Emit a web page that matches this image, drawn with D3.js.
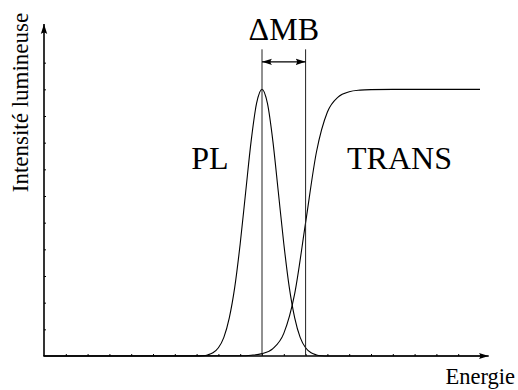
<!DOCTYPE html>
<html lang="fr">
<head>
<meta charset="utf-8">
<title>PL / TRANS</title>
<script src="https://d3js.org/d3.v7.min.js"></script>
<style>
  body { margin: 0; background: #fff; }
</style>
</head>
<body>
<script>
// energy positions (axis units) and intensities
const plEnergy = [0, 7, 7.25, 7.5, 7.75, 8, 8.25, 8.5, 8.75, 9, 9.25, 9.5, 9.75, 10,
                  10.25, 10.5, 10.75, 11, 11.25, 11.5, 11.75, 12, 12.25, 12.5, 12.75, 13, 20];
const plIntensity = [0, 0, 0.01, 0.04, 0.12, 0.31, 0.70, 1.43, 2.58, 4.21, 6.14, 8.05, 9.47, 10,
                     9.47, 8.05, 6.14, 4.21, 2.58, 1.43, 0.70, 0.31, 0.12, 0.04, 0.01, 0, 0];

const transEnergy = [0, 9, 9.5, 10, 10.5, 11, 11.5, 12, 12.5, 13, 13.5, 14, 14.5, 15, 16, 20];
const transIntensity = [0, 0.01, 0.03, 0.09, 0.28, 0.85, 2.34, 5.0, 7.66, 9.15, 9.72, 9.91, 9.97, 9.99, 10, 10];

const peakEnergy = 10;   // PL maximum
const edgeEnergy = 12;   // absorption edge (mid height of TRANS)

const curveLabels = [{text: "PL", x: 6.75}, {text: "TRANS", x: 13.9}];
const yTicks = d3.range(1, 12);
const xTicks = d3.range(1, 21);

const serif = "Liberation Serif";

const width = 518, height = 390;
const svg = d3.select("body").append("svg")
  .attr("width", width)
  .attr("height", height);

const x = d3.scaleLinear().domain([0, 20]).range([44, 480]);
const y = d3.scaleLinear().domain([0, 12]).range([356, 36]);

// arrow heads
const defs = svg.append("defs");
defs.append("marker")
  .attr("id", "head")
  .attr("viewBox", "0 0 10 8")
  .attr("refX", 10).attr("refY", 4)
  .attr("markerWidth", 10).attr("markerHeight", 8)
  .attr("markerUnits", "userSpaceOnUse")
  .attr("orient", "auto-start-reverse")
  .append("path")
  .attr("d", "M0,0.8 Q3,4 0,7.2 L10,4 Z")
  .attr("fill", "#000");

// ticks (no labels), pointing inside
svg.append("g")
  .attr("transform", `translate(${x(0)},0)`)
  .call(d3.axisLeft(y).tickValues(yTicks).tickSize(-2).tickFormat(""))
  .call(g => g.select(".domain").remove())
  .selectAll("line").attr("stroke", "#000").attr("stroke-width", 1);

svg.append("g")
  .attr("transform", `translate(0,${y(0)})`)
  .call(d3.axisBottom(x).tickValues(xTicks).tickSize(-2).tickFormat(""))
  .call(g => g.select(".domain").remove())
  .selectAll("line").attr("stroke", "#000").attr("stroke-width", 1);

// axes with arrows
svg.append("line")
  .attr("x1", x(0)).attr("y1", y(0))
  .attr("x2", x(0)).attr("y2", y(12.45))
  .attr("stroke", "#000").attr("stroke-width", 1.6)
  .attr("marker-end", "url(#head)");
svg.append("line")
  .attr("x1", x(0) - 0.8).attr("y1", y(0))
  .attr("x2", x(20.4)).attr("y2", y(0))
  .attr("stroke", "#000").attr("stroke-width", 1.6)
  .attr("marker-end", "url(#head)");

// curves
const line = d3.line()
  .x(d => x(d[0]))
  .y(d => y(d[1]))
  .curve(d3.curveMonotoneX);

svg.append("path")
  .datum(d3.zip(plEnergy, plIntensity))
  .attr("d", line)
  .attr("fill", "none")
  .attr("stroke", "#000")
  .attr("stroke-width", 1.1);

svg.append("path")
  .datum(d3.zip(transEnergy, transIntensity))
  .attr("d", line)
  .attr("fill", "none")
  .attr("stroke", "#000")
  .attr("stroke-width", 1.1);

// vertical markers for the gap
svg.selectAll(".vline")
  .data([peakEnergy, edgeEnergy])
  .join("line")
  .attr("class", "vline")
  .attr("x1", d => x(d)).attr("x2", d => x(d))
  .attr("y1", y(11.5)).attr("y2", y(0))
  .attr("stroke", "#222").attr("stroke-width", 1);

svg.append("line")
  .attr("x1", x(peakEnergy)).attr("x2", x(edgeEnergy))
  .attr("y1", y(11.03)).attr("y2", y(11.03))
  .attr("stroke", "#000").attr("stroke-width", 1.4)
  .attr("marker-start", "url(#head)")
  .attr("marker-end", "url(#head)");

svg.append("text")
  .attr("x", x((peakEnergy + edgeEnergy) / 2))
  .attr("y", 39.5)
  .attr("text-anchor", "middle")
  .attr("font-family", serif)
  .attr("font-size", 32)
  .text("ΔMB");

svg.selectAll(".clabel")
  .data(curveLabels)
  .join("text")
  .attr("class", "clabel")
  .attr("x", d => x(d.x))
  .attr("y", 169)
  .attr("font-family", serif)
  .attr("font-size", 32)
  .text(d => d.text);

// axis titles
svg.append("text")
  .attr("transform", "translate(28,102.5) rotate(-90)")
  .attr("text-anchor", "middle")
  .attr("font-family", serif)
  .attr("font-size", 23)
  .text("Intensité lumineuse");

svg.append("text")
  .attr("x", 515)
  .attr("y", 383.5)
  .attr("text-anchor", "end")
  .attr("font-family", serif)
  .attr("font-size", 22.5)
  .text("Energie");
</script>
</body>
</html>
